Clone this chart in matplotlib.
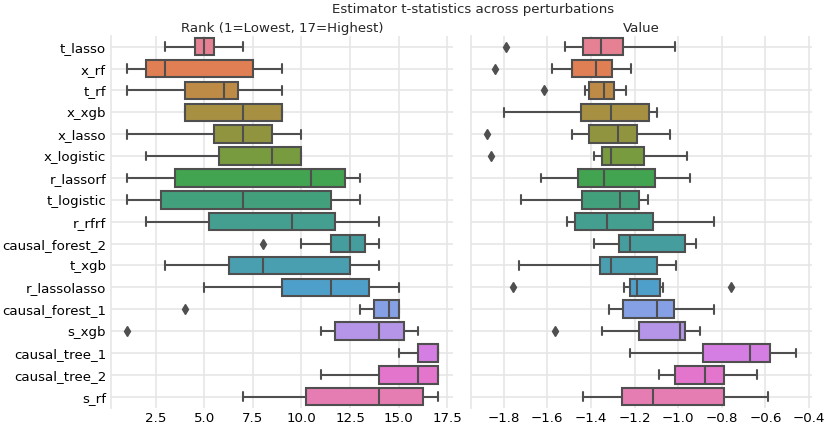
import matplotlib
matplotlib.use("Agg")
import matplotlib.pyplot as plt
import seaborn as sns

estimators = ["t_lasso", "x_rf", "t_rf", "x_xgb", "x_lasso", "x_logistic",
              "r_lassorf", "t_logistic", "r_rfrf", "causal_forest_2", "t_xgb",
              "r_lassolasso", "causal_forest_1", "s_xgb", "causal_tree_1",
              "causal_tree_2", "s_rf"]

# rank panel (box stats)
rank_whislo = [3, 1, 1, 4, 1, 2, 1, 1, 2, 10, 3, 5, 13, 11, 15, 11, 7]
rank_q1 = [4.5, 2, 4, 4, 5.5, 5.75, 3.5, 2.75, 5.25, 11.5, 6.25, 9, 13.75, 11.75, 16, 14, 10.25]
rank_med = [5, 3, 6, 7, 7, 8.5, 10.5, 7, 9.5, 12.5, 8, 11.5, 14.5, 14, 17, 16, 14]
rank_q3 = [5.5, 7.5, 6.75, 9, 8.5, 10, 12.25, 11.5, 11.75, 13.25, 12.5, 13.5, 15, 15.25, 17, 17, 16.25]
rank_whishi = [7, 9, 9, 9, 10, 10, 13, 13, 14, 14, 14, 15, 15, 16, 17, 17, 17]
rank_fliers = [[], [], [], [], [], [], [], [], [], [8], [], [], [4], [1], [], [], []]

# value panel
val_whislo = [-1.518, -1.579, -1.429, -1.798, -1.486, -1.388, -1.628, -1.719, -1.508,
              -1.388, -1.728, -1.247, -1.316, -1.348, -1.219, -1.089, -1.436]
val_q1 = [-1.438, -1.488, -1.409, -1.444, -1.409, -1.348, -1.459, -1.442, -1.474,
          -1.273, -1.357, -1.220, -1.254, -1.182, -0.888, -1.013, -1.260]
val_med = [-1.356, -1.378, -1.340, -1.307, -1.276, -1.308, -1.339, -1.267, -1.328,
           -1.219, -1.308, -1.187, -1.098, -0.990, -0.669, -0.879, -1.118]
val_q3 = [-1.254, -1.302, -1.293, -1.132, -1.187, -1.158, -1.106, -1.179, -1.118,
          -0.967, -1.098, -1.085, -1.018, -0.967, -0.579, -0.792, -0.792]
val_whishi = [-1.016, -1.217, -1.240, -1.098, -1.039, -0.958, -0.948, -1.138, -0.838,
              -0.919, -1.009, -1.069, -0.838, -0.899, -0.458, -0.637, -0.587]
val_fliers = [[-1.788], [-1.838], [-1.617], [], [-1.879], [-1.858], [], [], [],
              [], [], [-1.759, -0.760], [], [-1.567], [], [], []]

sns.set_style("whitegrid")
plt.rcParams['font.family'] = ['DejaVu Sans']
FS = 9.6

colors = [sns.desaturate(c, 0.75) for c in sns.color_palette("husl", len(estimators))]
edge = "#4f4f4f"
gridc = "#e6e6e6"


def make_stats(lo, q1, med, q3, hi, fl):
    out = []
    for i in range(len(lo)):
        out.append(dict(whislo=lo[i], q1=q1[i], med=med[i], q3=q3[i],
                        whishi=hi[i], fliers=fl[i]))
    return out


def draw(ax, stats):
    pos = list(range(len(stats)))
    bp = ax.bxp(stats, positions=pos, vert=False, widths=0.8, patch_artist=True,
                showfliers=True,
                boxprops=dict(edgecolor=edge, linewidth=1.5),
                medianprops=dict(color=edge, linewidth=1.5),
                whiskerprops=dict(color=edge, linewidth=1.5),
                capprops=dict(color=edge, linewidth=1.5),
                flierprops=dict(marker='d', markerfacecolor=edge,
                                markeredgecolor=edge, markersize=5))
    for patch, c in zip(bp['boxes'], colors):
        patch.set_facecolor(c)
    ax.set_ylim(len(stats) - 0.5, -0.5)
    ax.set_yticks(pos)
    ax.tick_params(axis='both', length=0, labelsize=FS, colors='black')
    ax.grid(True, color=gridc, linewidth=1.2)
    for s in ['top', 'right', 'bottom']:
        ax.spines[s].set_visible(False)
    ax.spines['left'].set_color(gridc)
    ax.spines['left'].set_linewidth(1.2)
    ax.margins(x=0.05)


fig = plt.figure(figsize=(8.31, 4.28), dpi=100)
ax1 = fig.add_axes([0.1336, 0.0477, 0.4116, 0.8687])
ax2 = fig.add_axes([0.5668, 0.0477, 0.4103, 0.8687], sharey=ax1)

draw(ax1, make_stats(rank_whislo, rank_q1, rank_med, rank_q3, rank_whishi, rank_fliers))
draw(ax2, make_stats(val_whislo, val_q1, val_med, val_q3, val_whishi, val_fliers))

ax1.set_yticklabels(estimators)
ax2.tick_params(labelleft=False)
ax1.set_title("Rank (1=Lowest, 17=Highest)", fontsize=FS, pad=3)
ax2.set_title("Value", fontsize=FS, pad=3)
fig.text(473 / 831, 0.978, "Estimator t-statistics across perturbations",
         ha='center', va='center', fontsize=FS)

fig.savefig("out.png", dpi=100)
